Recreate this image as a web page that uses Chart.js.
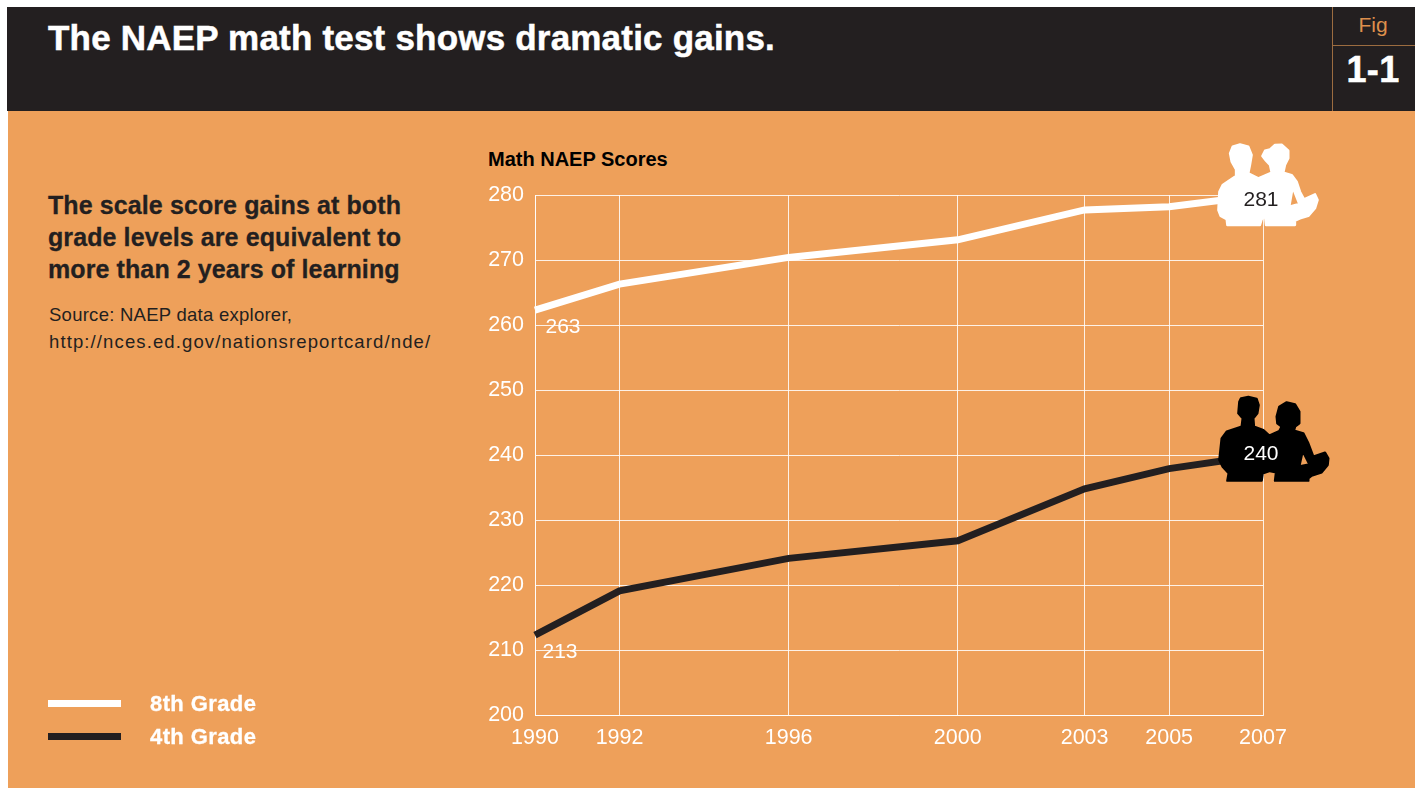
<!DOCTYPE html>
<html lang="en">
<head>
<meta charset="utf-8">
<title>The NAEP math test shows dramatic gains.</title>
<script src="https://cdn.jsdelivr.net/npm/chart.js@4"></script>
<style>
  html, body { margin: 0; padding: 0; background: #fff; }
  body { position: relative; width: 1415px; height: 788px; overflow: hidden; font-family: "Liberation Sans", sans-serif; color: #231f20; }
  .abs { position: absolute; white-space: nowrap; }
  .header { position: absolute; left: 7px; top: 7px; width: 1408px; height: 104px; background: #231f20; }
  .panel { position: absolute; left: 8px; top: 111px; width: 1407px; height: 677px; background: #eea05a; }
  #chart { position: absolute; left: 0; top: 0; }
  .title { left: 48px; top: 17px; font-size: 35px; line-height: 42px; font-weight: bold; color: #fff; letter-spacing: 0.2px; -webkit-text-stroke: 0.5px #fff; }
  .fig-v { position: absolute; left: 1332px; top: 7px; width: 1px; height: 104px; background: #9c6c40; }
  .fig-h { position: absolute; left: 1332px; top: 45px; width: 83px; height: 1px; background: #9c6c40; }
  .fig { left: 1332px; width: 82px; top: 12px; text-align: center; font-size: 21px; line-height: 26px; color: #dd8f4c; }
  .fignum { left: 1332px; width: 82px; top: 49px; text-align: center; font-size: 36px; line-height: 42px; font-weight: bold; color: #fff; letter-spacing: 0.4px; -webkit-text-stroke: 0.5px #fff; }
  .lead { left: 48px; top: 189px; font-size: 25px; line-height: 32px; font-weight: bold; letter-spacing: 0.1px; -webkit-text-stroke: 0.3px #231f20; }
  .source { left: 49px; top: 301px; font-size: 18.5px; line-height: 27px; }
  .source .first { letter-spacing: 0.26px; }
  .source .url { letter-spacing: 1.12px; }
  .ytitle { left: 488px; top: 148px; font-size: 20px; line-height: 22px; font-weight: bold; color: #000; }
  .swatch { position: absolute; left: 48px; width: 73px; height: 7px; }
  .legend-label { left: 150px; font-size: 22px; line-height: 26px; font-weight: bold; color: #fff; letter-spacing: 0.4px; -webkit-text-stroke: 0.3px #fff; }
</style>
</head>
<body>
<div class="panel"></div>
<div class="header"></div>
<div class="abs title">The NAEP math test shows dramatic gains.</div>
<div class="fig-v"></div>
<div class="fig-h"></div>
<div class="abs fig">Fig</div>
<div class="abs fignum">1-1</div>
<div class="abs lead">The scale score gains at both<br>grade levels are equivalent to<br>more than 2 years of learning</div>
<div class="abs source"><span class="first">Source: NAEP data explorer,</span><br><span class="url">http://nces.ed.gov/nationsreportcard/nde/</span></div>
<div class="abs ytitle">Math NAEP Scores</div>
<canvas id="chart" width="1415" height="788"></canvas>
<div id="legend"></div>

<script>
const years = [1990, 1992, 1996, 2000, 2003, 2005, 2007];
const yTicks = [200, 210, 220, 230, 240, 250, 260, 270, 280];
const grade8 = [262.3, 266.3, 270.4, 273.1, 277.7, 278.2, 280];
const grade4 = [212.3, 219.1, 224.1, 226.8, 234.8, 237.9, 240];
const seriesNames = ["8th Grade", "4th Grade"];
const grade8Labels = ["263", "281"];
const grade4Labels = ["213", "240"];

const white = "#ffffff";
const dark = "#231f20";

// the printed axis gives the last two years slightly more room than the rest
const stretchYear = (v) => (v <= 2005 ? v : 2005 + (v - 2005) * 1.11);

class PrintedYearScale extends Chart.LinearScale {
  buildTicks() {
    return years.map((value) => ({ value }));
  }
  getPixelForValue(value) {
    return super.getPixelForValue(stretchYear(value));
  }
}
PrintedYearScale.id = "printedYear";
PrintedYearScale.defaults = Chart.LinearScale.defaults;
Chart.register(PrintedYearScale);

// silhouettes, in 3x units
const whitePair = new Path2D(
  "M142 285L140 268L122 258L115 240L118 185L128 165L168 138L168 118L155 95L150 70L158 50L180 43L205 50L215 75L210 105L205 130L235 145L275 128L270 105L258 92L247 78L255 62L270 58L285 45L305 44L325 62L325 85L315 105L310 128L335 135L350 155L360 185L372 208L405 193L413 210L405 235L385 258L360 265L345 272L345 285L258 285L255 258L245 268L240 285Z" +
  "M328 230L338 172L358 222Z"
);
const blackPair = new Path2D(
  "M142 287L146 265L128 245L118 225L125 160L140 140L185 125L188 100L175 85L178 50L183 40L205 36L230 42L236 60L232 85L220 100L222 125L250 135L268 152L298 138L305 125L292 115L290 95L298 65L320 52L345 58L358 80L358 115L345 125L342 137L370 145L385 175L400 215L435 203L445 220L443 240L425 262L395 272L385 280L385 287L285 287L288 262L270 258L248 265L245 287Z" +
  "M358 244L368 198L388 238Z"
);

const figurePlugin = {
  id: "figures",
  afterDatasetsDraw(chart) {
    const ctx = chart.ctx;
    const x = chart.scales.x;
    const y = chart.scales.y;
    const last = years[years.length - 1];

    const drawPair = (path, value, dx, dy, color) => {
      ctx.save();
      ctx.translate(x.getPixelForValue(last) + dx, y.getPixelForValue(value) + dy);
      ctx.scale(1 / 3, 1 / 3);
      ctx.fillStyle = color;
      ctx.strokeStyle = color;
      ctx.lineWidth = 7;
      ctx.lineJoin = "round";
      ctx.fill(path, "evenodd");
      ctx.stroke(path);
      ctx.restore();
    };
    drawPair(whitePair, grade8[6], -83, -65, white);
    drawPair(blackPair, grade4[6], -83, -70, "#000000");

    ctx.save();
    ctx.font = '21px "Liberation Sans"';
    ctx.textAlign = "center";
    ctx.textBaseline = "middle";
    const put = (text, year, value, dx, dy, color) => {
      ctx.fillStyle = color;
      ctx.fillText(text, x.getPixelForValue(year) + dx, y.getPixelForValue(value) + dy);
    };
    put(grade8Labels[0], years[0], grade8[0], 28, 17, white);
    put(grade4Labels[0], years[0], grade4[0], 25, 17, white);
    put(grade8Labels[1], last, grade8[6], -2, 5, dark);
    put(grade4Labels[1], last, grade4[6], -2, -1, white);
    ctx.restore();
  },
};

new Chart(document.getElementById("chart"), {
  type: "line",
  plugins: [figurePlugin],
  data: {
    datasets: [
      {
        label: seriesNames[0],
        data: years.map((year, i) => ({ x: year, y: grade8[i] })),
        borderColor: white,
        backgroundColor: white,
        borderWidth: 7,
        pointRadius: 0,
        tension: 0,
        clip: false,
      },
      {
        label: seriesNames[1],
        data: years.map((year, i) => ({ x: year, y: grade4[i] })),
        borderColor: dark,
        backgroundColor: dark,
        borderWidth: 7,
        pointRadius: 0,
        tension: 0,
        clip: false,
      },
    ],
  },
  options: {
    responsive: false,
    animation: false,
    layout: { padding: { left: 480, right: 152, top: 195, bottom: 0 } },
    plugins: {
      legend: { display: false },
      tooltip: { enabled: false },
      title: { display: false },
    },
    scales: {
      x: {
        type: "printedYear",
        min: 1990,
        max: stretchYear(2007),
        afterFit: (scale) => { scale.height = 73; },
        grid: { color: "rgba(255,255,255,0.85)", lineWidth: 1, drawTicks: false },
        border: { color: "rgba(255,255,255,0.85)" },
        ticks: {
          color: white,
          font: { family: "Liberation Sans", size: 21.5 },
          padding: 10,
          autoSkip: false,
          maxRotation: 0,
          callback: (value) => String(value),
        },
      },
      y: {
        min: 200,
        max: 280,
        afterFit: (scale) => { scale.width = 55; },
        afterBuildTicks: (scale) => { scale.ticks = yTicks.map((value) => ({ value })); },
        grid: { color: "rgba(255,255,255,0.85)", lineWidth: 1, drawTicks: false },
        border: { color: "rgba(255,255,255,0.85)" },
        ticks: {
          color: white,
          font: { family: "Liberation Sans", size: 21.5 },
          padding: 11,
        },
      },
    },
  },
});

// legend bottom left
const legend = document.getElementById("legend");
[white, dark].forEach((color, i) => {
  const top = 700 + i * 33;
  const swatch = document.createElement("div");
  swatch.className = "swatch";
  swatch.style.top = top + "px";
  swatch.style.background = color;
  legend.appendChild(swatch);

  const label = document.createElement("div");
  label.className = "abs legend-label";
  label.style.top = top - 9 + "px";
  label.textContent = seriesNames[i];
  legend.appendChild(label);
});
</script>
</body>
</html>
